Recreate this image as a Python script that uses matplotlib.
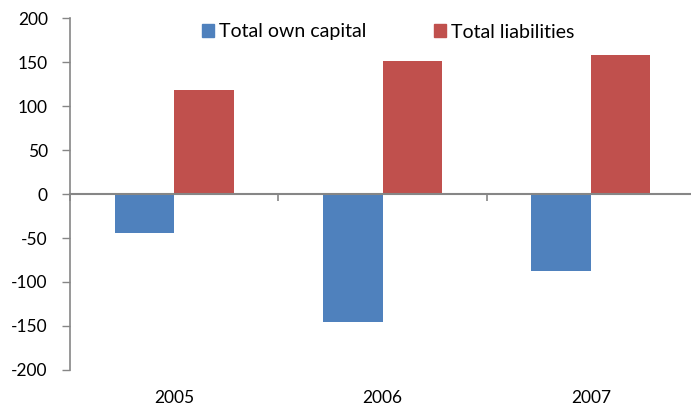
import matplotlib
matplotlib.use("Agg")
import matplotlib.pyplot as plt
import matplotlib.transforms as mtransforms
from matplotlib.patches import Patch
import numpy as np

plt.rcParams['font.family'] = ['Lato', 'DejaVu Sans']

years = ["2005", "2006", "2007"]
own_capital = [-44, -146, -88]
liabilities = [118, 151, 158]
y_ticks = [-200, -150, -100, -50, 0, 50, 100, 150, 200]

blue = "#4F81BD"
red = "#C0504D"
axis_grey = "#868686"

W, H = 691, 412
fig = plt.figure(figsize=(W / 100, H / 100), dpi=100)
ax = fig.add_axes([70 / W, (H - 370) / H, 625 / W, 352 / H])

x = np.arange(len(years))
bw = 1 / 3.5
ax.bar(x - bw / 2, own_capital, bw, color=blue, label="Total own capital", zorder=2)
ax.bar(x + bw / 2, liabilities, bw, color=red, label="Total liabilities", zorder=2)

ax.set_xlim(-0.5, len(years) - 0.5)
ax.set_ylim(-200, 200)
ax.set_yticks(y_ticks)
ax.set_yticklabels([str(v) for v in y_ticks], fontsize=12.5)
ax.tick_params(axis='y', direction='out', length=6, width=1, color=axis_grey, pad=10)

for s in ['top', 'right']:
    ax.spines[s].set_visible(False)
ax.spines['left'].set_color(axis_grey)
ax.spines['left'].set_linewidth(1.2)

# category axis drawn along the zero line with boundary ticks
ax.spines['bottom'].set_position(('data', 0))
ax.spines['bottom'].set_color(axis_grey)
ax.spines['bottom'].set_linewidth(1.5)
ax.spines['bottom'].set_zorder(3)
ax.set_xticks(np.arange(len(years) + 1) - 0.5)
ax.set_xticklabels([])
ax.tick_params(axis='x', direction='out', length=5, width=1.2, color=axis_grey)

# year labels sit below the plot area
trans = mtransforms.blended_transform_factory(ax.transData, ax.transAxes)
for xi, yr in zip(x, years):
    ax.text(xi, -0.08, yr, transform=trans, ha='center', va='center', fontsize=12.5)

handles = [Patch(color=blue), Patch(color=red)]
ax.legend(handles, ["Total own capital", "Total liabilities"], loc='center',
          bbox_to_anchor=(388 / W, 1 - 32 / H), bbox_transform=fig.transFigure,
          ncol=2, frameon=False, fontsize=14, handlelength=0.62, handleheight=0.62,
          handletextpad=0.28, columnspacing=3.45)

fig.savefig("out.png", dpi=100)
